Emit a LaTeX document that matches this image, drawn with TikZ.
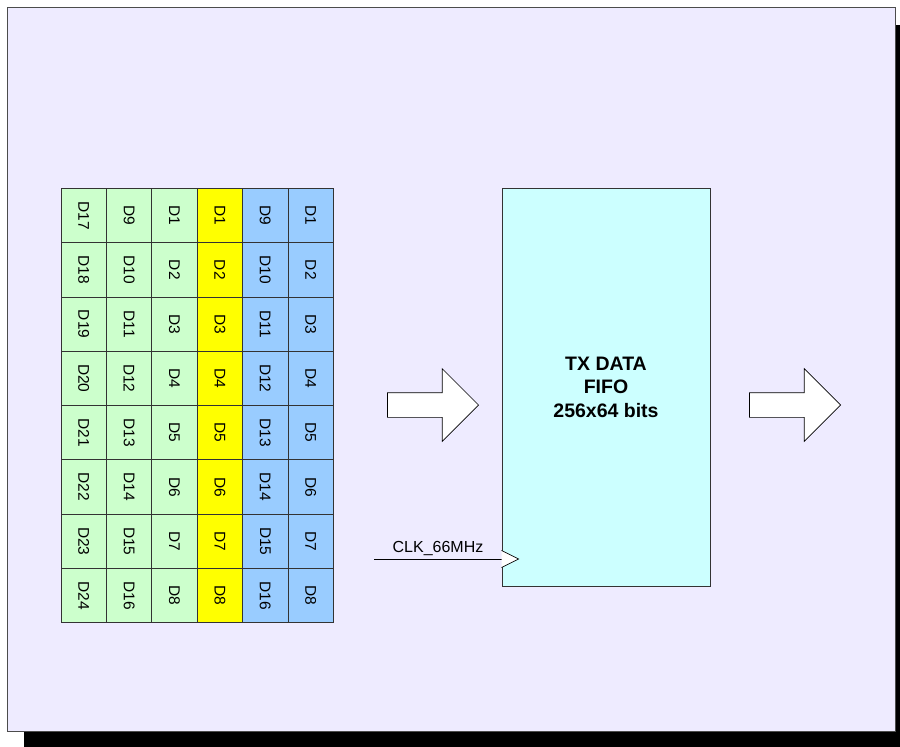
\documentclass[tikz,border=0pt]{standalone}
\usepackage{fontspec}
\setmainfont{Liberation Sans}
\usepackage{tikz}
\usetikzlibrary{shapes,arrows,positioning,calc,shapes.arrows}
\definecolor{panelbg}{RGB}{238,235,255}
\definecolor{cellgreen}{RGB}{204,255,204}
\definecolor{cellyellow}{RGB}{255,255,0}
\definecolor{cellblue}{RGB}{153,204,255}
\definecolor{fifocyan}{RGB}{204,255,255}

\begin{document}
\begin{tikzpicture}[
        x=1pt, y=-1pt,
        cell/.style={draw=black!80, line width=0.8pt, rotate=-90, inner sep=0pt, minimum width=54.3pt, minimum height=45.4pt, font=\fontsize{15.5}{18}\selectfont},
        fifo/.style={draw=black!80, line width=0.8pt, fill=fifocyan, minimum width=208pt, minimum height=398pt, align=center, font=\fontsize{19.5}{23.5}\selectfont\bfseries},
        bigarrow/.style={single arrow, draw=black, fill=white, line width=0.7pt, minimum height=91pt, inner xsep=0pt, inner ysep=12pt, single arrow head extend=24pt, single arrow tip angle=90, anchor=tip},
        clklabel/.style={font=\fontsize{16}{18}\selectfont, inner sep=1pt}
    ]
        \useasboundingbox (0,0) rectangle (900,747);

        % Panel with shadow
        \fill[black] (24,25) rectangle (900,747);
        \draw[fill=panelbg, draw=black!70, line width=0.8pt] (7,7) rectangle (895,731);

        % Data words
        \foreach \col/\clr/\start in {0/cellgreen/17, 1/cellgreen/9, 2/cellgreen/1, 3/cellyellow/1, 4/cellblue/9, 5/cellblue/1} {
            \foreach \row in {0,...,7} {
                \pgfmathtruncatemacro{\num}{\start+\row}
                \node[cell, fill=\clr] (c-\col-\row) at ({61+45.4*(\col+0.5)}, {188.3+54.3*(\row+0.5)}) {D\num};
            }
        }

        % FIFO
        \node[fifo] (fifo) at (606,387) {TX DATA\\FIFO\\256x64 bits};

        % Arrows
        \node[bigarrow] (arrin) at (479,405) {};
        \node[bigarrow] (arrout) at (841,405) {};

        % Clock
        \coordinate (clkin) at (374,559);
        \draw[line width=0.8pt] (clkin) -- (fifo.west |- clkin);
        \draw[fill=white, line width=0.7pt] ($(fifo.west |- clkin)+(0,-8.5)$) -- ($(fifo.west |- clkin)+(17,0)$) -- ($(fifo.west |- clkin)+(0,8.5)$);
        \node[clklabel, anchor=south] (clk) at (438,557) {CLK\_66MHz};
    \end{tikzpicture}
\end{document}
